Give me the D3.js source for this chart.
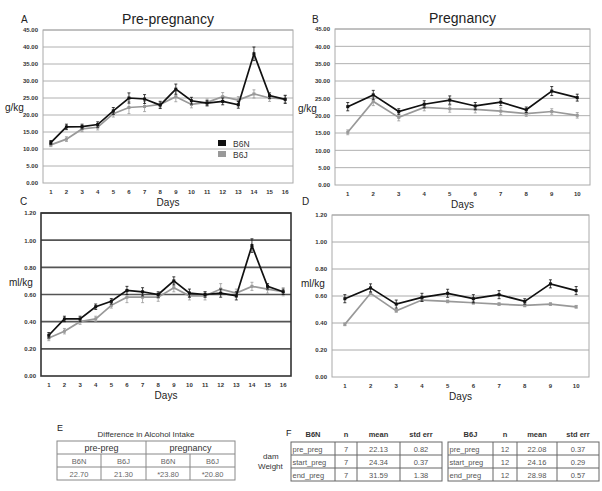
<!DOCTYPE html>
<html><head><meta charset="utf-8">
<script src="https://cdn.jsdelivr.net/npm/d3@7"></script>
<style>body{margin:0;background:#fff}svg{display:block}text{font-family:"Liberation Sans",Arial,sans-serif}</style>
</head><body><svg id="c" width="602" height="491"></svg>
<script>
const daysPre = d3.range(1,17);
const daysPreg = d3.range(1,11);
const seriesNames = ["B6N","B6J"];
// Panel A: pre-pregnancy intake g/kg
const preB6N = [11.9,16.5,16.6,17.2,21.2,25.0,24.7,22.9,27.6,24.2,23.5,24.0,23.0,38.0,25.7,24.6];
const preB6J = [11.2,12.9,15.9,16.4,20.4,22.2,22.5,23.1,25.4,23.1,23.7,25.4,24.4,26.2,25.0,24.7];
const preB6Nerr = [0.6,0.8,0.7,0.8,1.0,1.5,1.3,1.0,1.5,1.0,0.8,1.0,1.0,2.0,0.8,1.2];
const preB6Jerr = [0.5,0.7,0.8,0.8,1.0,1.8,1.5,1.0,1.5,1.0,1.0,1.2,1.0,1.2,1.0,1.0];
// Panel B: pregnancy intake g/kg
const pregB6N = [22.6,26.0,21.2,23.3,24.5,22.8,23.9,21.7,27.1,25.2];
const pregB6J = [15.2,24.1,19.5,22.4,22.0,21.8,21.3,20.6,21.2,20.1];
const pregB6Nerr = [1.2,1.3,0.8,1.0,1.2,1.0,1.0,0.8,1.3,1.0];
const pregB6Jerr = [0.7,1.2,1.0,1.0,1.0,1.0,1.0,0.8,0.8,0.8];
// Panel C: pre-pregnancy ml/kg
const preMlB6N = [0.30,0.42,0.42,0.51,0.55,0.63,0.62,0.60,0.70,0.61,0.60,0.61,0.59,0.96,0.66,0.62];
const preMlB6J = [0.28,0.33,0.40,0.42,0.52,0.58,0.58,0.58,0.65,0.59,0.59,0.64,0.61,0.66,0.64,0.62];
const preMlB6Nerr = [0.02,0.02,0.02,0.02,0.02,0.03,0.03,0.02,0.03,0.03,0.02,0.03,0.03,0.05,0.02,0.02];
const preMlB6Jerr = [0.02,0.02,0.02,0.02,0.02,0.04,0.04,0.03,0.03,0.03,0.03,0.04,0.03,0.03,0.03,0.03];
// Panel D: pregnancy ml/kg
const pregMlB6N = [0.58,0.66,0.54,0.59,0.62,0.58,0.61,0.56,0.69,0.64];
const pregMlB6J = [0.39,0.62,0.49,0.57,0.56,0.55,0.54,0.53,0.54,0.52];
const pregMlB6Nerr = [0.03,0.03,0.03,0.03,0.03,0.03,0.03,0.02,0.03,0.03];
const pregMlB6Jerr = [0.01,0.01,0.01,0.01,0.01,0.01,0.01,0.01,0.01,0.01];
const gTicks = [0,5,10,15,20,25,30,35,40,45];
const mlTicks = [0,0.2,0.4,0.6,0.8,1.0,1.2];
// Table E
const eHeader = ["pre-preg","pregnancy"];
const eSub = ["B6N","B6J","B6N","B6J"];
const eVals = ["22.70","21.30","*23.80","*20.80"];
// Table F
const fCols = ["n","mean","std err"];
const fRows = ["pre_preg","start_preg","end_preg"];
const fB6N = [["7","22.13","0.82"],["7","24.34","0.37"],["7","31.59","1.38"]];
const fB6J = [["12","22.08","0.37"],["12","24.16","0.29"],["12","28.98","0.57"]];

const svg = d3.select("#c");
const colN = "#111", colJ = "#999";

function panel(o){
  const x = d3.scaleBand().domain(o.days).range([o.x0,o.x1]);
  const y = d3.scaleLinear().domain([0,o.ymax]).range([o.y1,o.y0]);
  const g = svg.append("g");
  g.append("g").selectAll("line").data(o.ticks.slice(1)).join("line")
    .attr("x1",o.x0).attr("x2",o.x1).attr("y1",d=>y(d)).attr("y2",d=>y(d))
    .attr("stroke",o.grid).attr("stroke-width",o.gridW);
  g.append("rect").attr("x",o.x0).attr("y",o.y0).attr("width",o.x1-o.x0).attr("height",o.y1-o.y0)
    .attr("fill","none").attr("stroke",o.border).attr("stroke-width",o.borderW);
  const ya = d3.axisLeft(y).tickValues(o.ticks).tickFormat(d3.format(".2f")).tickSize(0).tickPadding(5);
  const yg = g.append("g").attr("transform",`translate(${o.x0},0)`).call(ya);
  yg.select(".domain").remove();
  yg.selectAll("text").attr("font-size",6).attr("font-weight","bold").attr("fill","#333").style("font-family","Liberation Sans, Arial");
  const xa = d3.axisBottom(x).tickSize(0).tickPadding(7);
  const xg = g.append("g").attr("transform",`translate(0,${o.y1})`).call(xa);
  xg.select(".domain").remove();
  xg.selectAll("text").attr("font-size",6).attr("font-weight","bold").attr("fill","#333").style("font-family","Liberation Sans, Arial");
  const cx = d => x(d)+x.bandwidth()/2;
  const series = [{v:o.j,e:o.je,c:colJ},{v:o.n,e:o.ne,c:colN}];
  series.forEach(s=>{
    const pts = o.days.map((d,i)=>({d,v:s.v[i],e:s.e[i]}));
    g.append("g").selectAll("line").data(pts).join("line")
      .attr("x1",p=>cx(p.d)).attr("x2",p=>cx(p.d)).attr("y1",p=>y(p.v-p.e)).attr("y2",p=>y(p.v+p.e))
      .attr("stroke",s.c).attr("stroke-width",0.8);
    g.append("g").selectAll("path").data(pts.flatMap(p=>[p.v-p.e,p.v+p.e].map(v=>({d:p.d,v})))).join("path")
      .attr("d",p=>`M${cx(p.d)-1.5},${y(p.v)}h3`).attr("stroke",s.c).attr("stroke-width",0.8);
    g.append("path").datum(pts).attr("fill","none").attr("stroke",s.c).attr("stroke-width",1.7)
      .attr("d",d3.line().x(p=>cx(p.d)).y(p=>y(p.v)));
    g.append("g").selectAll("rect").data(pts).join("rect")
      .attr("x",p=>cx(p.d)-1.5).attr("y",p=>y(p.v)-1.5).attr("width",3).attr("height",3).attr("fill",s.c);
  });
  g.append("text").attr("x",o.unitX).attr("y",o.unitY).attr("font-size",10).attr("fill","#222").text(o.unit);
  g.append("text").attr("x",(o.x0+o.x1)/2).attr("y",o.y1+23).attr("text-anchor","middle").attr("font-size",10).attr("fill","#222").text("Days");
  g.append("text").attr("x",o.letterX).attr("y",o.letterY).attr("font-size",10).attr("fill","#222").text(o.letter);
  if(o.title) g.append("text").attr("x",(o.x0+o.x1)/2).attr("y",o.y0-6).attr("text-anchor","middle").attr("font-size",14).attr("fill","#222").text(o.title);
  return {x,y,cx};
}

panel({days:daysPre,x0:43,x1:293,y0:30,y1:183,ymax:45,ticks:gTicks,n:preB6N,j:preB6J,ne:preB6Nerr,je:preB6Jerr,
  grid:"#b0b0b0",gridW:1,border:"#aaa",borderW:1,unit:"g/kg",unitX:5,unitY:111,letter:"A",letterX:21,letterY:23,title:"Pre-pregnancy"});
panel({days:daysPreg,x0:335,x1:590,y0:29,y1:185,ymax:45,ticks:gTicks,n:pregB6N,j:pregB6J,ne:pregB6Nerr,je:pregB6Jerr,
  grid:"#b0b0b0",gridW:1,border:"#aaa",borderW:1,unit:"g/kg",unitX:298,unitY:112,letter:"B",letterX:312,letterY:23,title:"Pregnancy"});
panel({days:daysPre,x0:41,x1:291,y0:213,y1:376,ymax:1.2,ticks:mlTicks,n:preMlB6N,j:preMlB6J,ne:preMlB6Nerr,je:preMlB6Jerr,
  grid:"#555",gridW:1.6,border:"#333",borderW:1.6,unit:"ml/kg",unitX:9,unitY:286,letter:"C",letterX:20,letterY:205});
panel({days:daysPreg,x0:332,x1:589,y0:215,y1:377,ymax:1.2,ticks:mlTicks,n:pregMlB6N,j:pregMlB6J,ne:pregMlB6Nerr,je:pregMlB6Jerr,
  grid:"#aaa",gridW:1,border:"#aaa",borderW:1,unit:"ml/kg",unitX:301,unitY:287,letter:"D",letterX:302,letterY:205});

// legend in panel A
const leg = svg.append("g");
seriesNames.forEach((s,i)=>{
  leg.append("rect").attr("x",218).attr("y",140+i*11).attr("width",8).attr("height",6).attr("fill",i?colJ:colN);
  leg.append("text").attr("x",233).attr("y",146.5+i*11).attr("font-size",8.5).attr("fill","#333").text(s);
});

// Table E
const tE = svg.append("g");
tE.append("text").attr("x",57).attr("y",431).attr("font-size",9).attr("fill","#222").text("E");
tE.append("text").attr("x",146).attr("y",437).attr("text-anchor","middle").attr("font-size",8).attr("fill","#333").text("Difference in Alcohol Intake");
const ex = [57,101,146,190,235], ey=[441,454,467,480];
tE.append("rect").attr("x",ex[0]).attr("y",ey[0]).attr("width",ex[4]-ex[0]).attr("height",ey[3]-ey[0]).attr("fill","none").attr("stroke","#888");
[ey[1],ey[2]].forEach(yy=>tE.append("line").attr("x1",ex[0]).attr("x2",ex[4]).attr("y1",yy).attr("y2",yy).attr("stroke","#888"));
tE.append("line").attr("x1",ex[2]).attr("x2",ex[2]).attr("y1",ey[0]).attr("y2",ey[3]).attr("stroke","#888");
[ex[1],ex[3]].forEach(xx=>tE.append("line").attr("x1",xx).attr("x2",xx).attr("y1",ey[1]).attr("y2",ey[3]).attr("stroke","#888"));
eHeader.forEach((h,i)=>tE.append("text").attr("x",(ex[i*2]+ex[i*2+2])/2).attr("y",ey[0]+10).attr("text-anchor","middle").attr("font-size",9).attr("fill","#333").text(h));
eSub.forEach((h,i)=>tE.append("text").attr("x",(ex[i]+ex[i+1])/2).attr("y",ey[1]+9.5).attr("text-anchor","middle").attr("font-size",7.5).attr("fill","#666").text(h));
eVals.forEach((h,i)=>tE.append("text").attr("x",(ex[i]+ex[i+1])/2).attr("y",ey[2]+9.5).attr("text-anchor","middle").attr("font-size",7.5).attr("fill","#666").text(h));

// Table F
const tF = svg.append("g");
tF.append("text").attr("x",286).attr("y",436).attr("font-size",9).attr("fill","#222").text("F");
tF.append("text").attr("x",263).attr("y",459).attr("font-size",8).attr("fill","#333").text("dam");
tF.append("text").attr("x",258).attr("y",469).attr("font-size",8).attr("fill","#333").text("Weight");
function ftable(name,vals,xs){
  const fy=[442,455,468,481];
  tF.append("text").attr("x",(xs[0]+xs[1])/2).attr("y",437).attr("text-anchor","middle").attr("font-size",7.5).attr("font-weight","bold").attr("fill","#333").text(name);
  fCols.forEach((c,i)=>tF.append("text").attr("x",(xs[i+1]+xs[i+2])/2).attr("y",437).attr("text-anchor","middle").attr("font-size",7.5).attr("font-weight","bold").attr("fill","#333").text(c));
  tF.append("rect").attr("x",xs[0]).attr("y",fy[0]).attr("width",xs[4]-xs[0]).attr("height",fy[3]-fy[0]).attr("fill","none").attr("stroke","#666");
  [fy[1],fy[2]].forEach(yy=>tF.append("line").attr("x1",xs[0]).attr("x2",xs[4]).attr("y1",yy).attr("y2",yy).attr("stroke","#666"));
  [xs[1],xs[2],xs[3]].forEach(xx=>tF.append("line").attr("x1",xx).attr("x2",xx).attr("y1",fy[0]).attr("y2",fy[3]).attr("stroke","#666"));
  fRows.forEach((r,j)=>{
    tF.append("text").attr("x",xs[0]+1.5).attr("y",fy[j]+9.5).attr("font-size",7.5).attr("fill","#555").text(r);
    vals[j].forEach((v,i)=>tF.append("text").attr("x",(xs[i+1]+xs[i+2])/2).attr("y",fy[j]+9.5).attr("text-anchor","middle").attr("font-size",7.5).attr("fill","#555").text(v));
  });
}
ftable("B6N",fB6N,[291,335,357,400,442]);
ftable("B6J",fB6J,[448,493,517,557,599]);
</script></body></html>
